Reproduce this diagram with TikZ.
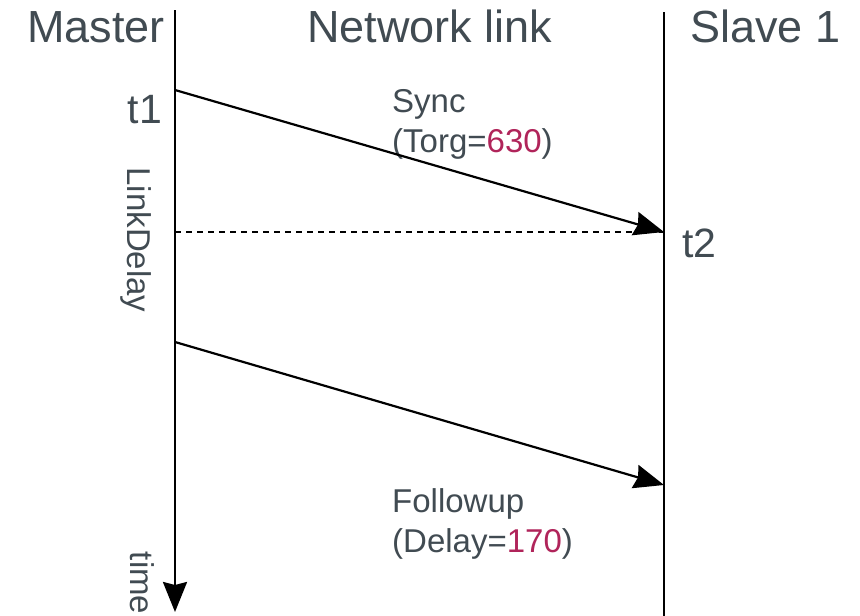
\documentclass[tikz,border=0pt]{standalone}
\usepackage{fontspec}
\setmainfont{Liberation Sans}
\usepackage{tikz}
\usetikzlibrary{arrows.meta, positioning, calc}
\definecolor{labelgray}{HTML}{414B52}
\definecolor{valuered}{HTML}{B0245A}
\tikzset{
x=1pt, y=-1pt,
>={Stealth[length=30pt,width=24pt,inset=3pt]},
lifeline/.style={line width=2.5pt, draw=black},
msg/.style={->, line width=2.2pt, draw=black},
guide/.style={dashed, line width=1.3pt, dash pattern=on 6pt off 5pt, draw=black},
head/.style={%
    inner sep=0pt,
    text=labelgray,
    % Font
    font=\fontsize{45}{54}\selectfont
},
stamp/.style={head, font=\fontsize{41}{48}\selectfont},
note/.style={head, align=left, font=\fontsize{33}{40}\selectfont},
}
\newcommand{\val}[1]{\textcolor{valuered}{#1}}

\begin{document}
\begin{tikzpicture}
	\useasboundingbox (0,0) rectangle (860,616);

	\coordinate (mtop) at (175,10);
	\coordinate (mend) at (175,612);
	\coordinate (stop) at (664,12);
	\coordinate (send) at (664,616);

	\coordinate (m1) at (175,90);
	\coordinate (s1) at (664,232);
	\coordinate (m2) at (175,232);
	\coordinate (m3) at (175,342);
	\coordinate (s3) at (664,485);

	\node[head, anchor=base west] at (27,42) (master) {Master};
	\node[head, anchor=base west] at (307,42) (link) {Network link};
	\node[head, anchor=base west] at (690,42) (slave) {Slave 1};

	\node[stamp, anchor=base east] at (162,123) (t1) {t1};
	\node[stamp, anchor=base west] at (682,257) (t2) {t2};

	% base of a two-line note is its last line
	\node[note, anchor=base west] at (392,152) (sync) {Sync\\(Torg=\val{630})};
	\node[note, anchor=base west] at (392,552) (followup) {Followup\\(Delay=\val{170})};

	\node[note, rotate=-90] at (136,240) (delay) {LinkDelay};
	\node[note, rotate=-90] at (142,583) (time) {time};

	\path (mtop) edge[lifeline, ->] (mend);
	\path (stop) edge[lifeline] (send);

	\path (m1) edge[msg] (s1);
	\path (m2) edge[guide] (s1);
	\path (m3) edge[msg] (s3);
\end{tikzpicture}
\end{document}
